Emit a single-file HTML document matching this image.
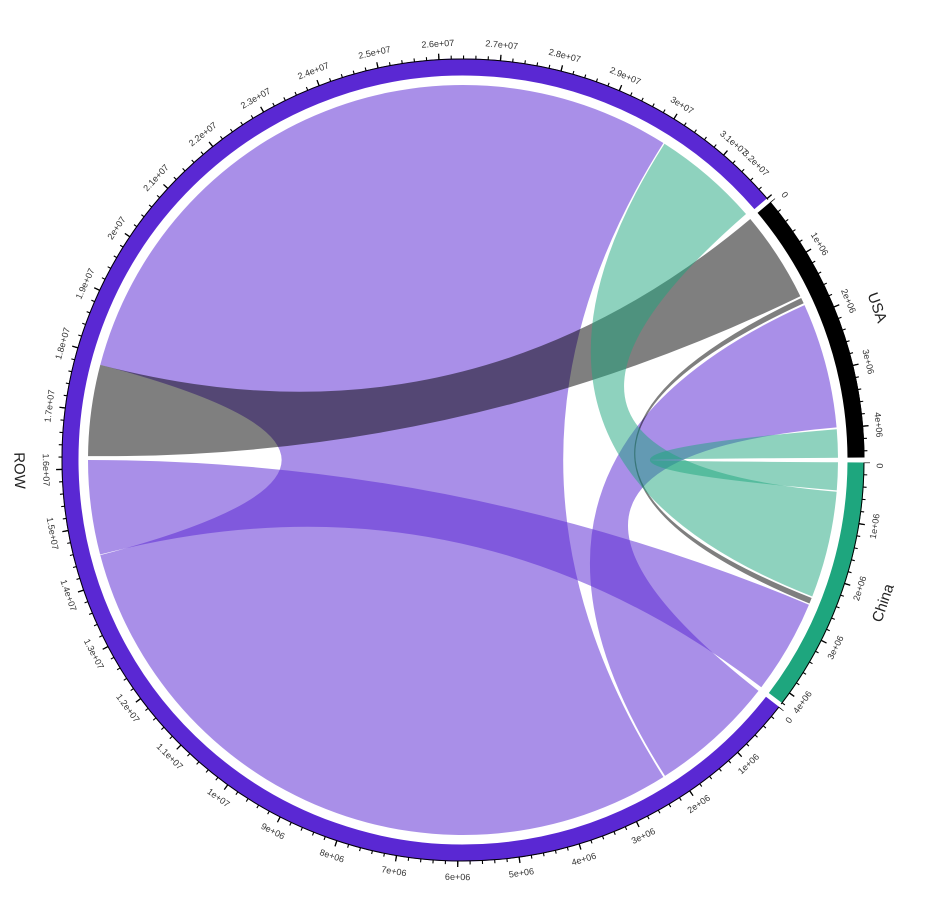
<!DOCTYPE html>
<html><head><meta charset="utf-8"><style>
html,body{margin:0;padding:0;background:#fff;}
svg{display:block;}
text{font-family:"Liberation Sans",sans-serif;}
.t{font-size:9px;fill:#333;}
.n{font-size:15px;fill:#222;}
</style></head><body>
<svg width="934" height="909" viewBox="0 0 934 909" xmlns="http://www.w3.org/2000/svg">
<rect width="934" height="909" fill="#fff"/>
<!-- chords -->
<g>
<path d="M 663.38 776.97 A 375 375 0 0 1 100.27 555.16 Q 463 460 100.27 364.84 A 375 375 0 0 1 663.38 143.03 Q 463 460 663.38 776.97 Z" fill="#5a28d3" fill-opacity="0.52"/>
<path d="M 804.51 305.09 A 375 375 0 0 1 836.57 427.32 Q 463 460 758.50 690.87 A 375 375 0 0 1 665.03 775.91 Q 463 460 804.51 305.09 Z" fill="#5a28d3" fill-opacity="0.52"/>
<path d="M 808.95 604.72 A 375 375 0 0 1 761.29 687.24 Q 463 460 100.11 554.53 A 375 375 0 0 1 88 460 Q 463 460 808.95 604.72 Z" fill="#5a28d3" fill-opacity="0.52"/>
<path d="M 750.27 218.95 A 375 375 0 0 1 800.34 296.20 Q 463 460 88.02 456.07 A 375 375 0 0 1 100.27 364.84 Q 463 460 750.27 218.95 Z" fill="#000" fill-opacity="0.5"/>
<path d="M 801.19 297.97 A 375 375 0 0 1 803.69 303.30 Q 463 460 811.65 598.04 A 375 375 0 0 1 809.46 603.51 Q 463 460 801.19 297.97 Z" fill="#000" fill-opacity="0.5"/>
<path d="M 664.49 143.73 A 375 375 0 0 1 746.02 213.98 Q 463 460 836.66 491.71 A 375 375 0 0 1 812.25 596.52 Q 463 460 664.49 143.73 Z" fill="#1ea67e" fill-opacity="0.5"/>
<path d="M 836.74 429.27 A 375 375 0 0 1 837.99 457.71 Q 463 460 837.99 462.29 A 375 375 0 0 1 836.77 490.40 Q 463 460 836.74 429.27 Z" fill="#1ea67e" fill-opacity="0.5"/>
</g>
<!-- tracks -->
<g fill="none" stroke-width="17">
<path d="M 772.69 701.95 A 393 393 0 1 1 760.85 203.63" stroke="#5a28d3"/>
<path d="M 764.05 207.38 A 393 393 0 0 1 855.99 457.60" stroke="#000"/>
<path d="M 855.99 462.40 A 393 393 0 0 1 775.61 698.15" stroke="#1ea67e"/>
</g>
<!-- baselines and ticks -->
<defs>
<path id="aR" d="M 778.99 706.88 A 401 401 0 1 1 767.92 199.57"/>
<path id="aU" d="M 770.18 202.24 A 401 401 0 0 1 863.99 457.55"/>
<path id="aC" d="M 863.99 462.45 A 401 401 0 0 1 781.13 704.11"/>
</defs>
<g fill="none" stroke="#000">
<use href="#aR" stroke-width="1"/>
<use href="#aU" stroke-width="1"/>
<use href="#aC" stroke-width="1"/>
<g transform="translate(463 460) scale(1.00436) translate(-463 -460)" stroke-width="3.5" stroke-dasharray="1.1 11.2038" stroke-dashoffset="0.55">
<use href="#aR"/><use href="#aU"/><use href="#aC"/>
</g>
<g transform="translate(463 460) scale(1.00748) translate(-463 -460)" stroke-width="6" stroke-dasharray="1.3 60.219" stroke-dashoffset="0.65">
<use href="#aR"/><use href="#aU"/><use href="#aC"/>
</g>
</g>
<!-- tick labels -->
<g class="t" text-anchor="middle" dominant-baseline="central">
<text transform="translate(463 460) rotate(38.6) translate(417 0) rotate(-90)">0</text>
<text transform="translate(463 460) rotate(46.79) translate(417 0) rotate(-90)">1e+06</text>
<text transform="translate(463 460) rotate(55.58) translate(417 0) rotate(-90)">2e+06</text>
<text transform="translate(463 460) rotate(64.37) translate(417 0) rotate(-90)">3e+06</text>
<text transform="translate(463 460) rotate(73.16) translate(417 0) rotate(-90)">4e+06</text>
<text transform="translate(463 460) rotate(81.95) translate(417 0) rotate(-90)">5e+06</text>
<text transform="translate(463 460) rotate(90.74) translate(417 0) rotate(-90)">6e+06</text>
<text transform="translate(463 460) rotate(99.53) translate(417 0) rotate(-90)">7e+06</text>
<text transform="translate(463 460) rotate(108.32) translate(417 0) rotate(-90)">8e+06</text>
<text transform="translate(463 460) rotate(117.11) translate(417 0) rotate(-90)">9e+06</text>
<text transform="translate(463 460) rotate(125.9) translate(417 0) rotate(-90)">1e+07</text>
<text transform="translate(463 460) rotate(134.69) translate(417 0) rotate(-90)">1.1e+07</text>
<text transform="translate(463 460) rotate(143.48) translate(417 0) rotate(-90)">1.2e+07</text>
<text transform="translate(463 460) rotate(152.27) translate(417 0) rotate(-90)">1.3e+07</text>
<text transform="translate(463 460) rotate(161.06) translate(417 0) rotate(-90)">1.4e+07</text>
<text transform="translate(463 460) rotate(169.85) translate(417 0) rotate(-90)">1.5e+07</text>
<text transform="translate(463 460) rotate(178.64) translate(417 0) rotate(-90)">1.6e+07</text>
<text transform="translate(463 460) rotate(187.43) translate(417 0) rotate(90)">1.7e+07</text>
<text transform="translate(463 460) rotate(196.22) translate(417 0) rotate(90)">1.8e+07</text>
<text transform="translate(463 460) rotate(205.01) translate(417 0) rotate(90)">1.9e+07</text>
<text transform="translate(463 460) rotate(213.8) translate(417 0) rotate(90)">2e+07</text>
<text transform="translate(463 460) rotate(222.59) translate(417 0) rotate(90)">2.1e+07</text>
<text transform="translate(463 460) rotate(231.38) translate(417 0) rotate(90)">2.2e+07</text>
<text transform="translate(463 460) rotate(240.17) translate(417 0) rotate(90)">2.3e+07</text>
<text transform="translate(463 460) rotate(248.96) translate(417 0) rotate(90)">2.4e+07</text>
<text transform="translate(463 460) rotate(257.75) translate(417 0) rotate(90)">2.5e+07</text>
<text transform="translate(463 460) rotate(266.54) translate(417 0) rotate(90)">2.6e+07</text>
<text transform="translate(463 460) rotate(275.33) translate(417 0) rotate(90)">2.7e+07</text>
<text transform="translate(463 460) rotate(284.12) translate(417 0) rotate(90)">2.8e+07</text>
<text transform="translate(463 460) rotate(292.91) translate(417 0) rotate(90)">2.9e+07</text>
<text transform="translate(463 460) rotate(301.7) translate(417 0) rotate(90)">3e+07</text>
<text transform="translate(463 460) rotate(310.49) translate(417 0) rotate(90)">3.1e+07</text>
<text transform="translate(463 460) rotate(314.6) translate(417 0) rotate(90)">3.2e+07</text>
<text transform="translate(463 460) rotate(-39.5) translate(417 0) rotate(90)">0</text>
<text transform="translate(463 460) rotate(-31.21) translate(417 0) rotate(90)">1e+06</text>
<text transform="translate(463 460) rotate(-22.42) translate(417 0) rotate(90)">2e+06</text>
<text transform="translate(463 460) rotate(-13.63) translate(417 0) rotate(90)">3e+06</text>
<text transform="translate(463 460) rotate(-4.84) translate(417 0) rotate(90)">4e+06</text>
<text transform="translate(463 460) rotate(0.8) translate(417 0) rotate(-90)">0</text>
<text transform="translate(463 460) rotate(9.14) translate(417 0) rotate(-90)">1e+06</text>
<text transform="translate(463 460) rotate(17.93) translate(417 0) rotate(-90)">2e+06</text>
<text transform="translate(463 460) rotate(26.72) translate(417 0) rotate(-90)">3e+06</text>
<text transform="translate(463 460) rotate(35.51) translate(417 0) rotate(-90)">4e+06</text>
</g>
<!-- sector names -->
<g class="n" text-anchor="middle" dominant-baseline="central">
<text transform="translate(463 460) rotate(178.64) translate(444 0) rotate(-90)">ROW</text>
<text transform="translate(463 460) rotate(-20.2) translate(441 0) rotate(90)">USA</text>
<text transform="translate(463 460) rotate(18.8) translate(444 0) rotate(-90)">China</text>
</g>
</svg>
</body></html>
